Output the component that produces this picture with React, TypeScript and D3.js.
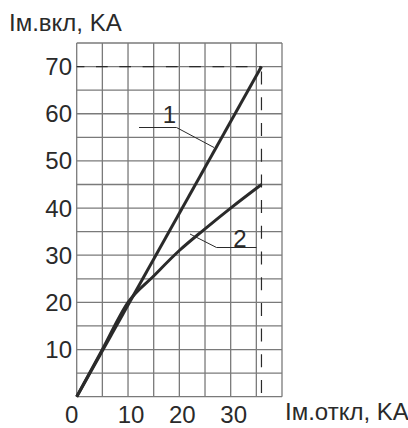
import React from "react";
import * as d3 from "d3";

const xTicks = [0, 10, 20, 30];
const yTicks = [10, 20, 30, 40, 50, 60, 70];
const gridX = [0, 5, 10, 15, 20, 25, 30, 35, 40];
const gridY = [0, 5, 10, 15, 20, 25, 30, 35, 40, 45, 50, 55, 60, 65, 70, 75];
const curve1X = [0, 36];
const curve1Y = [0, 70];
const curve2X = [0, 5, 10, 15, 20, 25, 30, 36];
const curve2Y = [0, 10, 20, 25.6, 31, 35.6, 40, 45];
const limitX = 36;
const limitY = 70;
const yTitle = "Iм.вкл, KA";
const xTitle = "Iм.откл, KA";
const label1 = "1";
const label2 = "2";

const W = 408;
const H = 428;
const FONT = "'Liberation Sans Narrow', 'Liberation Sans', Arial, sans-serif";

export default function App() {
  const x = d3.scaleLinear().domain([0, 40]).range([76.7, 282]);
  const y = d3.scaleLinear().domain([0, 75]).range([396.7, 43]);
  const line = d3
    .line<[number, number]>()
    .x((d) => x(d[0]))
    .y((d) => y(d[1]));
  const smooth = d3
    .line<[number, number]>()
    .x((d) => x(d[0]))
    .y((d) => y(d[1]))
    .curve(d3.curveMonotoneX);
  const c1 = curve1X.map((v, i) => [v, curve1Y[i]] as [number, number]);
  const c2 = curve2X.map((v, i) => [v, curve2Y[i]] as [number, number]);
  const ink = "#2a2a2a";
  const grid = "#7a7a7a";
  return (
    <svg
      width={W}
      height={H}
      style={{ position: "absolute", left: 0, top: 0, background: "#fff" }}
      fontFamily={FONT}
    >
      {gridX.map((g) => (
        <line key={"gx" + g} x1={x(g)} x2={x(g)} y1={y(0)} y2={y(75)} stroke={grid} strokeWidth={1.3} />
      ))}
      {gridY.map((g) => (
        <line key={"gy" + g} x1={x(0)} x2={x(40)} y1={y(g)} y2={y(g)} stroke={grid} strokeWidth={1.3} />
      ))}
      <line x1={x(0)} x2={x(limitX)} y1={y(limitY)} y2={y(limitY)} stroke={ink} strokeWidth={1.2} strokeDasharray="11.7,11.6" strokeDashoffset={4} />
      <line x1={x(limitX)} x2={x(limitX)} y1={y(0)} y2={y(limitY)} stroke={ink} strokeWidth={1.2} strokeDasharray="13,12.7" strokeDashoffset={22} />
      <path d={line(c1) || ""} fill="none" stroke={ink} strokeWidth={3} />
      <path d={smooth(c2) || ""} fill="none" stroke={ink} strokeWidth={3} />
      <polyline points="139,127.5 176.5,127.5 214,147.5" fill="none" stroke={ink} strokeWidth={1} />
      <polyline points="190,234 216.5,247.5 256.5,247.5" fill="none" stroke={ink} strokeWidth={1} />
      <text x={169.5} y={122.7} textAnchor="middle" fontSize={24} fill={ink}>{label1}</text>
      <text x={240} y={246.5} textAnchor="middle" fontSize={24} fill={ink}>{label2}</text>
      {yTicks.map((t) => (
        <text key={"yt" + t} x={72} y={y(t) + 8.5} textAnchor="end" fontSize={24} fill={ink}>{t}</text>
      ))}
      {xTicks.map((t) => (
        <text key={"xt" + t} x={x(t) + (t === 0 ? -5 : 3)} y={422.7} textAnchor="middle" fontSize={24} fill={ink}>{t}</text>
      ))}
      <text x={9} y={31} fontSize={24} fill={ink}>{yTitle}</text>
      <text x={285} y={420} fontSize={24} fill={ink}>{xTitle}</text>
    </svg>
  );
}
